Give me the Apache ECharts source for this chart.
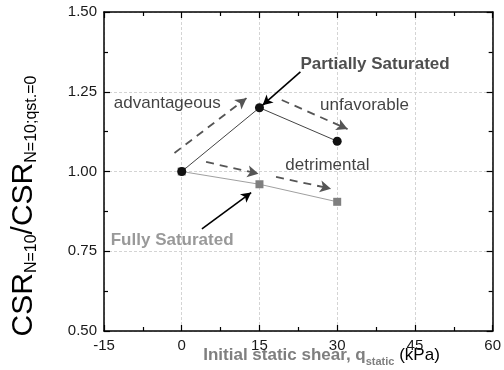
<!DOCTYPE html>
<html>
<head>
<meta charset="utf-8">
<script src="https://cdn.jsdelivr.net/npm/echarts@6/dist/echarts.min.js"></script>
<style>
  html, body { margin: 0; padding: 0; background: #fff; }
  #chart { width: 504px; height: 370px; }
</style>
</head>
<body>
<div id="chart"></div>
<script>
// Initial static shear (kPa) for each test stage
const shearKPa = [0, 15, 30];
// Normalised cyclic resistance ratios
const partiallySaturated = [1.0, 1.2, 1.095];
const fullySaturated = [1.0, 0.96, 0.905];

// Axis ticks
const xTicks = { min: -15, max: 60, step: 15 };
const yTicks = { min: 0.5, max: 1.5, step: 0.25 };

// Trend arrows: [x1, y1, x2, y2] in data units
const trendArrows = [
  [-1.4, 1.058, 12.5, 1.230],   // advantageous
  [19.3, 1.224, 32.0, 1.133],   // unfavorable
  [4.7, 1.030, 14.8, 0.993],    // detrimental, first leg
  [18.2, 0.983, 28.8, 0.946]    // detrimental, second leg
];
// Pointer arrows from the captions to the curves
const pointerArrows = [
  [22.9, 1.312, 15.6, 1.208],   // Partially Saturated
  [3.9, 0.820, 13.4, 0.934]     // Fully Saturated
];
// Captions: [x, y, text, kind]
const captions = [
  [-13.1, 1.215, 'advantageous', 'plain'],
  [26.7, 1.208, 'unfavorable', 'plain'],
  [20.0, 1.020, 'detrimental', 'plain'],
  [22.9, 1.337, 'Partially Saturated', 'boldDark'],
  [-13.7, 0.785, 'Fully Saturated', 'boldGrey']
];

const FONT = 'Liberation Sans, Arial, sans-serif';
const GREY = '#7f7f7f';

const chart = echarts.init(document.getElementById('chart'), null, { renderer: 'canvas' });

const captionStyles = {
  plain: { fontWeight: 'normal', color: '#111' },
  boldDark: { fontWeight: 'bold', color: '#222' },
  boldGrey: { fontWeight: 'bold', color: GREY }
};

function arrowLines(list) {
  return list.map(a => [{ coord: [a[0], a[1]] }, { coord: [a[2], a[3]] }]);
}

const gridDash = { color: '#d4d4d4', type: [3, 2], width: 1 };

const boxAxisX = {
  type: 'value', min: xTicks.min, max: xTicks.max, interval: xTicks.step,
  axisLine: { show: true, onZero: false, lineStyle: { color: '#000', width: 1.5 } },
  axisTick: { show: true, inside: true, length: 6, lineStyle: { color: '#000', width: 1.2 } },
  minorTick: { show: true, splitNumber: 2, length: 4, lineStyle: { color: '#000', width: 1.2 } }
};
const boxAxisY = {
  type: 'value', min: yTicks.min, max: yTicks.max, interval: yTicks.step,
  axisLine: { show: true, onZero: false, lineStyle: { color: '#000', width: 1.5 } },
  axisTick: { show: true, inside: true, length: 6, lineStyle: { color: '#000', width: 1.2 } },
  minorTick: { show: true, splitNumber: 2, length: 4, lineStyle: { color: '#000', width: 1.2 } }
};

chart.setOption({
  animation: false,
  backgroundColor: '#fff',
  grid: { left: 104, right: 8, top: 12, bottom: 39 },
  xAxis: [
    Object.assign({}, boxAxisX, {
      position: 'bottom',
      axisLabel: { color: '#1a1a1a', fontSize: 15, fontFamily: FONT, margin: 7 },
      splitLine: { show: true, lineStyle: gridDash }
    }),
    Object.assign({}, boxAxisX, {
      position: 'top',
      axisLabel: { show: false },
      splitLine: { show: false }
    })
  ],
  yAxis: [
    Object.assign({}, boxAxisY, {
      position: 'left',
      axisLabel: {
        color: '#1a1a1a', fontSize: 15, fontFamily: FONT, margin: 7,
        formatter: v => v.toFixed(2)
      },
      splitLine: { show: true, lineStyle: gridDash }
    }),
    Object.assign({}, boxAxisY, {
      position: 'right',
      axisLabel: { show: false },
      splitLine: { show: false }
    })
  ],
  series: [
    {
      name: 'Fully Saturated',
      type: 'line',
      data: shearKPa.map((x, i) => [x, fullySaturated[i]]),
      symbol: 'rect', symbolSize: 8,
      itemStyle: { color: GREY },
      lineStyle: { color: '#a0a0a0', width: 1 },
      z: 3
    },
    {
      name: 'Partially Saturated',
      type: 'line',
      data: shearKPa.map((x, i) => [x, partiallySaturated[i]]),
      symbol: 'circle', symbolSize: 9,
      itemStyle: { color: '#111' },
      lineStyle: { color: '#444', width: 1 },
      z: 4
    },
    {
      name: 'trends',
      type: 'line',
      data: [],
      silent: true,
      z: 2,
      markLine: {
        silent: true,
        animation: false,
        symbol: ['none', 'arrow'],
        symbolSize: [9, 11],
        label: { show: false },
        lineStyle: { color: '#555', width: 1.8, type: [8, 6] },
        data: arrowLines(trendArrows)
      }
    },
    {
      name: 'pointers',
      type: 'line',
      data: [],
      silent: true,
      z: 5,
      markLine: {
        silent: true,
        animation: false,
        symbol: ['none', 'arrow'],
        symbolSize: [8, 10],
        label: { show: false },
        lineStyle: { color: '#000', width: 1.6, type: 'solid' },
        data: arrowLines(pointerArrows)
      }
    },
    {
      name: 'captions',
      type: 'scatter',
      symbolSize: 0,
      silent: true,
      z: 6,
      data: captions.map(c => ({
        value: [c[0], c[1]],
        label: Object.assign({
          show: true, position: 'right', distance: 0,
          formatter: c[2], fontSize: 17, fontFamily: FONT
        }, captionStyles[c[3]])
      }))
    }
  ],
  graphic: [
    {
      type: 'text',
      x: 25, y: 206,
      rotation: Math.PI / 2,
      style: {
        text: '{m|CSR}{s|N=10}{m|/CSR}{s|N=10;qst.=0}',
        align: 'center', verticalAlign: 'middle',
        rich: {
          m: { fontSize: 30, lineHeight: 30, fontFamily: FONT, fill: '#000', verticalAlign: 'bottom', padding: [0, 0, 1, 0] },
          s: { fontSize: 16, lineHeight: 16, fontFamily: FONT, fill: '#000', verticalAlign: 'bottom' }
        }
      }
    },
    {
      type: 'text',
      x: 321.5, y: 359,
      style: {
        text: '{g|Initial static shear, q}{gs|static}{k| (kPa)}',
        align: 'center', verticalAlign: 'middle',
        rich: {
          g: { fontSize: 17, lineHeight: 17, fontWeight: 'bold', fontFamily: FONT, fill: GREY, verticalAlign: 'bottom', padding: [0, 0, 4, 0] },
          gs: { fontSize: 11, lineHeight: 11, fontWeight: 'bold', fontFamily: FONT, fill: GREY, verticalAlign: 'bottom' },
          k: { fontSize: 17, lineHeight: 17, fontFamily: FONT, fill: '#000', verticalAlign: 'bottom', padding: [0, 0, 4, 0] }
        }
      }
    }
  ]
});
</script>
</body>
</html>
